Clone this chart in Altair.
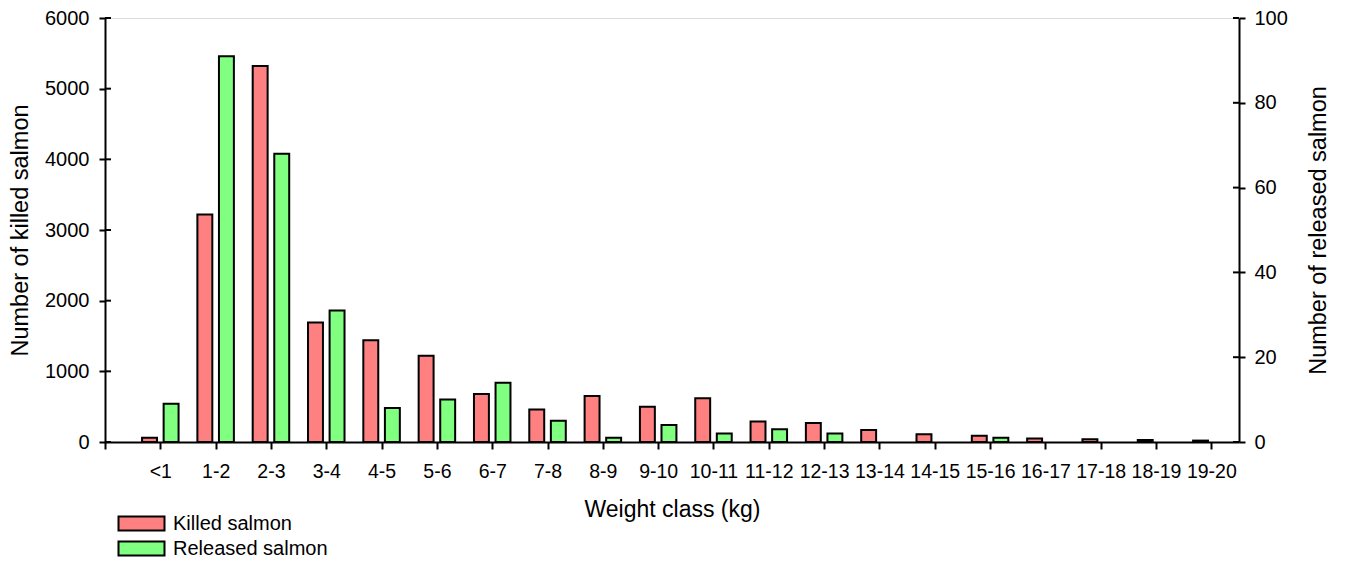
import json
import altair as alt
import pandas as pd

# ---- data ----
weight_classes = ["<1", "1-2", "2-3", "3-4", "4-5", "5-6", "6-7", "7-8", "8-9", "9-10",
                  "10-11", "11-12", "12-13", "13-14", "14-15", "15-16", "16-17", "17-18",
                  "18-19", "19-20"]
killed = [60, 3220, 5320, 1690, 1440, 1220, 680, 460, 650, 500,
          620, 290, 270, 170, 110, 90, 50, 40, 30, 20]
released = [9, 91, 68, 31, 8, 10, 14, 5, 1, 4,
            2, 3, 2, 0, 0, 1, 0, 0, 0, 0]
left_ticks = [0, 1000, 2000, 3000, 4000, 5000, 6000]
right_ticks = [0, 20, 40, 60, 80, 100]
series_names = ["Killed salmon", "Released salmon"]
series_colors = ["#FF8080", "#80FF80"]

FONT = "Liberation Sans"
W, H = 1134, 424

idx = list(range(1, len(weight_classes) + 1))
df_k = pd.DataFrame({"idx": idx, "label": weight_classes, "value": killed, "series": series_names[0]})
df_r = pd.DataFrame({"idx": idx, "label": weight_classes, "value": released, "series": series_names[1]})

label_arr = json.dumps([""] + weight_classes)
x_axis = alt.Axis(
    values=list(range(0, len(weight_classes) + 1)),
    labelExpr=f"{label_arr}[datum.value]",
    title="Weight class (kg)",
    grid=False, domainColor="black", domainWidth=2, tickColor="black", tickWidth=2,
    tickSize=7, labelFontSize=19.5, labelPadding=13, labelColor="black",
    titleFontSize=23, titleFontWeight="normal", titlePadding=18, titleColor="black",
    labelFont=FONT, titleFont=FONT, labelOverlap=False, labelFlush=False,
)
x_scale = alt.Scale(domain=[0, len(weight_classes) + 0.5], nice=False, zero=False)

color = alt.Color(
    "series:N",
    scale=alt.Scale(domain=series_names, range=series_colors),
    legend=alt.Legend(
        title=None, orient="none", legendX=24, legendY=493,
        symbolType="M-2,-0.6H2V0.6H-2Z", symbolSize=529,
        symbolStrokeColor="black", symbolStrokeWidth=2, symbolOpacity=1,
        labelFontSize=20, labelFont=FONT, labelColor="black", labelOffset=19,
        rowPadding=1, padding=0,
    ),
)

left_axis = alt.Axis(
    orient="left", values=left_ticks, format="d", title="Number of killed salmon", grid=False,
    domainColor="black", domainWidth=2, tickColor="black", tickWidth=2, tickSize=6,
    labelFontSize=20, labelPadding=10, labelColor="black", labelFont=FONT,
    titleFontSize=23.5, titleFontWeight="normal", titleFont=FONT, titleColor="black",
    titlePadding=12,
)
right_axis = alt.Axis(
    orient="right", values=right_ticks, format="d", title="Number of released salmon", grid=False,
    domainColor="black", domainWidth=2, tickColor="black", tickWidth=2, tickSize=6,
    labelFontSize=20, labelPadding=9, labelColor="black", labelFont=FONT,
    titleFontSize=23.5, titleFontWeight="normal", titleFont=FONT, titleColor="black",
    titlePadding=43, titleAngle=270,
)

killed_bars = alt.Chart(df_k).transform_filter("datum.value > 0").transform_calculate(
    x0="datum.idx - 0.33", x1="datum.idx - 0.06", base="0"
).mark_bar(stroke="black", strokeWidth=2).encode(
    x=alt.X("x0:Q", scale=x_scale, axis=x_axis),
    x2="x1:Q",
    y=alt.Y("value:Q", scale=alt.Scale(domain=[0, 6000], nice=False), axis=left_axis),
    y2="base:Q",
    fill=color,
)

released_bars = alt.Chart(df_r).transform_filter("datum.value > 0").transform_calculate(
    x0="datum.idx + 0.06", x1="datum.idx + 0.33", base="0"
).mark_bar(stroke="black", strokeWidth=2).encode(
    x=alt.X("x0:Q", scale=x_scale, axis=x_axis),
    x2="x1:Q",
    y=alt.Y("value:Q", scale=alt.Scale(domain=[0, 100], nice=False), axis=right_axis),
    y2="base:Q",
    fill=color,
)

left_inner = alt.Chart(pd.DataFrame({"t": left_ticks})).mark_rule(color="black", strokeWidth=2).encode(
    x=alt.value(0), x2=alt.value(6),
    y=alt.Y("t:Q", scale=alt.Scale(domain=[0, 6000], nice=False), axis=None),
)
right_inner = alt.Chart(pd.DataFrame({"t": right_ticks})).mark_rule(color="black", strokeWidth=2).encode(
    x=alt.value(W - 6), x2=alt.value(W),
    y=alt.Y("t:Q", scale=alt.Scale(domain=[0, 100], nice=False), axis=None),
)

chart = alt.layer(killed_bars, released_bars, left_inner, right_inner).resolve_scale(
    y="independent"
).properties(
    width=W, height=H,
    autosize=alt.AutoSizeParams(type="none"),
    padding={"left": 97, "top": 10, "right": 95, "bottom": 115},
).configure_view(stroke=None).configure(background="white")

chart.save("out.html", embed_options={"renderer": "svg", "actions": False})
